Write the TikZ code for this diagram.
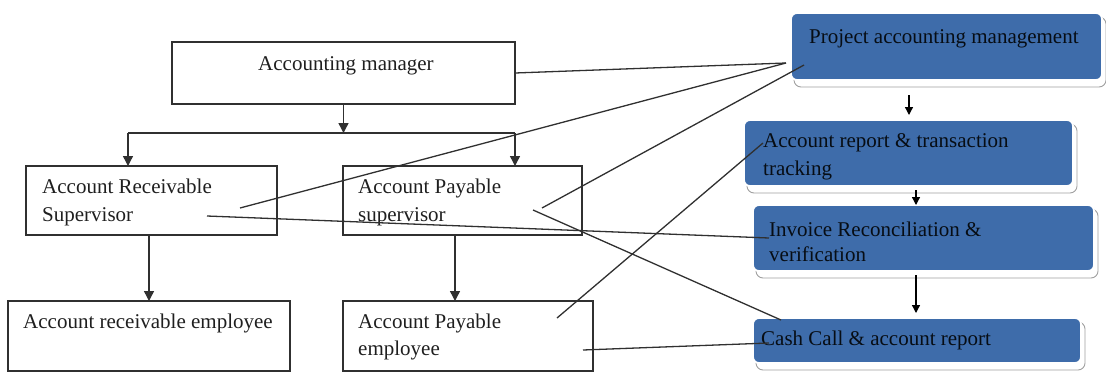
\documentclass[tikz,border=0pt]{standalone}
\usepackage{fontspec}
\setmainfont{Liberation Serif}
\usetikzlibrary{arrows.meta,calc,backgrounds}
\definecolor{boxblue}{RGB}{62,108,170}
\definecolor{ink}{RGB}{48,48,48}
\begin{document}
\begin{tikzpicture}[x=1pt,y=-1pt,
  wbox/.style={draw=ink, line width=1.3pt, inner sep=0pt, outer sep=0pt},
  bbox/.style={fill=boxblue, draw=white, line width=1.8pt, rounded corners=6pt, inner sep=0pt, outer sep=0pt},
  frame/.style={draw=gray!75, line width=0.9pt, rounded corners=7pt},
  lbl/.style={anchor=base west, inner sep=0pt, font=\fontsize{21}{25}\selectfont, text=black!88},
  blbl/.style={lbl, text=black!88!boxblue},
  tree/.style={draw=ink, line width=1.4pt},
  tarrow/.style={tree, -{Triangle[length=10pt,width=10pt]}},
  link/.style={draw=ink, line width=1.3pt},
  barrow/.style={draw=black, line width=1.3pt, -{Triangle[length=8pt,width=8pt]}}]

\useasboundingbox (0,0) rectangle (1106,373);

% ---- organisation chart (left) ----
\node[wbox, minimum width=343pt, minimum height=62pt] (am)   at (343.5,73)  {};
\node[wbox, minimum width=251pt, minimum height=69pt] (ars)  at (151.5,200.5) {};
\node[wbox, minimum width=239pt, minimum height=69pt] (aps)  at (462.5,200.5) {};
\node[wbox, minimum width=282pt, minimum height=70pt] (are)  at (149,336) {};
\node[wbox, minimum width=250pt, minimum height=70pt] (ape)  at (468,336) {};

\node[lbl] (amt)   at (258,70)  {Accounting manager};
\node[lbl] (arst1) at (42,193)  {Account Receivable};
\node[lbl] (arst2) at (42,221)  {Supervisor};
\node[lbl] (apst1) at (358,193) {Account Payable};
\node[lbl] (apst2) at (358,221) {supervisor};
\node[lbl] (aret)  at (23,328)  {Account receivable employee};
\node[lbl] (apet1) at (358,328) {Account Payable};
\node[lbl] (apet2) at (358,355) {employee};

% ---- process boxes (right) ----
\node[bbox, minimum width=311pt, minimum height=67pt] (pam) at (946.5,46.5) {};
\node[bbox, minimum width=329pt, minimum height=66pt] (art) at (908.5,153) {};
\node[bbox, minimum width=341pt, minimum height=66pt] (irv) at (923.5,238) {};
\node[bbox, minimum width=328pt, minimum height=45pt] (cc)  at (917,340.5) {};

\begin{scope}[on background layer]
  \foreach \b in {pam,art,irv,cc}
    \draw[frame] ($(\b.north west)+(3,4)$) rectangle ($(\b.south east)+(4,7)$);
\end{scope}

\node[blbl] (pamt)  at (809,43)  {Project accounting management};
\node[blbl] (artt1) at (763,147) {Account report \& transaction};
\node[blbl] (artt2) at (763,175) {tracking};
\node[blbl] (irvt1) at (769,236) {Invoice Reconciliation \&};
\node[blbl] (irvt2) at (769,261) {verification};
\node[blbl] (cct)   at (761,345) {Cash Call \& account report};

% ---- hierarchy arrows ----
\coordinate (bus)  at (343.5,133);
\coordinate (busl) at (128,133);
\coordinate (busr) at (515,133);
\draw[tarrow] (am.south) -- (bus);
\draw[tree] (busl) -- (busr);
\draw[tarrow] (busl) -- (busl |- ars.north);
\draw[tarrow] (busr) -- (busr |- aps.north);
\coordinate (vl) at (149,0);
\coordinate (vr) at (455,0);
\draw[tarrow] (vl |- ars.south) -- (vl |- are.north);
\draw[tarrow] (vr |- aps.south) -- (vr |- ape.north);

% ---- process flow arrows ----
\coordinate (fx1) at (909,0);
\coordinate (fx2) at (916,0);
\draw[barrow, shorten <=15pt, shorten >=5pt] (fx1 |- pam.south) -- (fx1 |- art.north);
\draw[barrow, shorten <=4pt] (fx2 |- art.south) -- (fx2 |- irv.north);
\draw[barrow, shorten <=4pt, shorten >=5pt] (fx2 |- irv.south) -- (fx2 |- cc.north);

% ---- cross links between roles and processes ----
\coordinate (pamA) at (786,63);
\coordinate (pamB) at (804,65);
\coordinate (artA) at (763,143);
\coordinate (irvA) at (769,238);
\coordinate (ccA)  at (781,320);
\coordinate (ccB)  at (769,343);
\coordinate (arsA) at (240,208);
\coordinate (arsB) at (207,216);
\coordinate (apsA) at (542,208);
\coordinate (apsB) at (533,210);
\coordinate (apeA) at (557,318);
\coordinate (apeB) at (583,350);

\draw[link] (am.east) -- (pamA);
\draw[link] (arsA) -- (pamA);
\draw[link] (apsA) -- (pamB);
\draw[link] (arsB) -- (irvA);
\draw[link] (apsB) -- (ccA);
\draw[link] (apeA) -- (artA);
\draw[link] (apeB) -- (ccB);
\end{tikzpicture}
\end{document}
